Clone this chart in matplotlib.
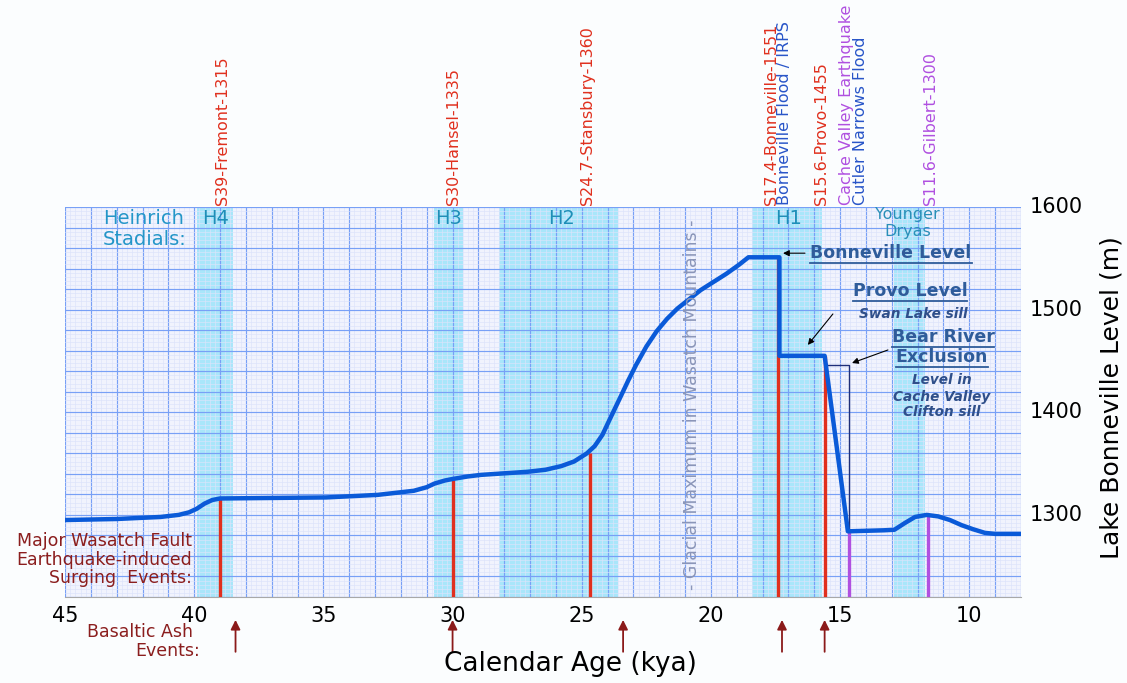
import matplotlib
matplotlib.use("Agg")
import matplotlib.pyplot as plt
from matplotlib.lines import Line2D
from matplotlib.transforms import IdentityTransform
from matplotlib.ticker import MultipleLocator

# Lake Bonneville level curve (age in kya, level in m)
age = [45.0, 43.0, 41.3, 40.6, 40.2, 39.9, 39.6, 39.3, 39.0, 37.0, 34.9, 32.9,
       31.5, 31.0, 30.7, 30.3, 30.0, 29.4, 28.9, 28.0, 27.1, 26.4, 25.8, 25.3,
       24.8, 24.5, 24.2, 24.05, 23.9, 23.5, 23.2, 22.9, 22.5, 22.1, 21.7, 21.3, 20.9,
       20.4, 19.9, 19.4, 18.9, 18.55, 17.35, 17.35, 15.6, 14.7, 13.3, 12.9,
       12.5, 12.1, 11.65, 11.2, 10.75, 10.3, 9.85, 9.4, 9.0, 8.0]
level = [1295, 1296, 1298, 1300, 1302.5, 1306, 1311, 1314.5, 1316, 1316.5, 1317, 1319.5,
         1323.5, 1327, 1330.5, 1333.5, 1335, 1337.5, 1339, 1340.5, 1342, 1344, 1347.5, 1352,
         1360, 1367, 1378, 1386, 1394, 1415, 1431, 1446, 1464, 1479, 1491, 1501, 1509,
         1519, 1527, 1535, 1544, 1551, 1551, 1455, 1455, 1284, 1285, 1285.5,
         1292, 1298, 1300, 1298.5, 1295, 1290, 1286, 1282.5, 1281.5, 1281.5]

# earthquake-induced surging events
quake_age = [39.0, 30.0, 24.7, 17.4, 15.6]
quake_level = [1316, 1334, 1360, 1551, 1455]
quake_label = ["S39-Fremont-1315", "S30-Hansel-1335", "S24.7-Stansbury-1360",
               "S17.4-Bonneville-1551", "S15.6-Provo-1455"]
quake_label_x = [38.92, 29.98, 24.76, 17.64, 15.74]

# purple events
purple_age = [14.65, 11.6]
purple_level = [1284, 1300]

# Heinrich stadials (start, end)
stadial_start = [39.9, 30.7, 28.2, 18.4, 12.9]
stadial_end = [38.5, 29.6, 23.6, 15.7, 11.7]
stadial_name = ["H4", "H3", "H2", "H1"]
stadial_name_x = [39.16, 30.14, 25.8, 16.98]

# basaltic ash events
ash_age = [38.4, 30.0, 23.4, 17.25, 15.6]

# Bear River exclusion outline
bear_age = [15.6, 14.65, 14.65]
bear_level = [1446, 1446, 1284]

xticks = [45, 40, 35, 30, 25, 20, 15, 10]
yticks = [1300, 1400, 1500, 1600]

RED = "#E0301E"
BLUE_TXT = "#2855C8"
PURPLE = "#B050E0"
DARKRED = "#8B1E1E"
CYAN_TXT = "#2496C8"
NOTE = "#2F5C9A"

fig = plt.figure(figsize=(11.27, 6.83), dpi=100)
fig.patch.set_facecolor("#FBFDFE")
ax = fig.add_axes([65 / 1127, 86 / 683, 956 / 1127, 390 / 683])
ax.set_facecolor("#F1F3FD")
ax.set_xlim(45, 8)
ax.set_ylim(1220, 1600)

# graph paper grid
ax.xaxis.set_major_locator(MultipleLocator(1))
ax.xaxis.set_minor_locator(MultipleLocator(0.2))
ax.yaxis.set_major_locator(MultipleLocator(20))
ax.yaxis.set_minor_locator(MultipleLocator(4))
ax.grid(which="major", color="#78A0F6", lw=0.85)
ax.grid(which="minor", color="#DCE3FA", lw=0.45)
ax.set_axisbelow(False)
ax.tick_params(which="both", length=0, labelbottom=False, labelleft=False)

for s, e in zip(stadial_start, stadial_end):
    ax.axvspan(s, e, color="#A9E6FA", lw=0, zorder=1)

ax.vlines(quake_age, 1220, quake_level, color=RED, lw=2.4, zorder=3)
ax.vlines(purple_age, 1220, purple_level, color=PURPLE, lw=2.4, zorder=3)
ax.plot(bear_age, bear_level, color="#1F2F7A", lw=1.0, zorder=3)
ax.plot(age, level, color="#0A5AD8", lw=3.2, zorder=4, solid_joinstyle="round")

for sp in ["left", "right", "top"]:
    ax.spines[sp].set_visible(False)
ax.spines["bottom"].set_color("#A8A8A8")

# tick labels
for t in xticks:
    ax.text(t, 1211, str(t), ha="center", va="top", fontsize=15, color="black",
            clip_on=False)
for t in yticks:
    ax.text(1.009, (t - 1220) / 380, str(t), transform=ax.transAxes, ha="left",
            va="center", fontsize=15, color="black")
fig.text(1112 / 1127, 1 - 398 / 683, "Lake Bonneville Level (m)", rotation=90,
         ha="center", va="center", fontsize=18)
fig.text(570 / 1127, 1 - 664 / 683, "Calendar Age (kya)", ha="center",
         va="center", fontsize=19)

# top rotated labels
top_y = 1602
for x, lab in zip(quake_label_x, quake_label):
    ax.text(x, top_y, lab, rotation=90, ha="center", va="bottom", color=RED,
            fontsize=11.5, clip_on=False)
ax.text(17.14, top_y, "Bonneville Flood / IRPS", rotation=90, ha="center",
        va="bottom", color=BLUE_TXT, fontsize=11.5, clip_on=False)
ax.text(14.74, top_y, "Cache Valley Earthquake", rotation=90, ha="center",
        va="bottom", color=PURPLE, fontsize=11.5, clip_on=False)
ax.text(14.2, top_y, "Cutler Narrows Flood", rotation=90, ha="center",
        va="bottom", color=BLUE_TXT, fontsize=11.5, clip_on=False)
ax.text(11.52, top_y, "S11.6-Gilbert-1300", rotation=90, ha="center",
        va="bottom", color=PURPLE, fontsize=11.5, clip_on=False)

# stadial labels
ax.text(43.52, 1589, "Heinrich", ha="left", va="center", color=CYAN_TXT, fontsize=14)
ax.text(43.52, 1568, "Stadials:", ha="left", va="center", color=CYAN_TXT, fontsize=14)
for x, lab in zip(stadial_name_x, stadial_name):
    ax.text(x, 1589, lab, ha="center", va="center", color="#1E8FB8", fontsize=14)
ax.text(12.38, 1593, "Younger", ha="center", va="center", color="#2A8FB8", fontsize=11.5)
ax.text(12.38, 1576, "Dryas", ha="center", va="center", color="#2A8FB8", fontsize=11.5)

ax.text(20.75, 1407, "- Glacial Maximum in Wasatch Mountains -", rotation=90,
        ha="center", va="center", color="#8A95B8", fontsize=12.5, zorder=5)

# level notes
notes = []
notes.append(ax.text(13.03, 1555, "Bonneville Level", ha="center", va="center",
                     color=NOTE, fontsize=12.5, fontweight="bold", zorder=6))
notes.append(ax.text(12.3, 1518, "Provo Level", ha="center", va="center",
                     color=NOTE, fontsize=12.5, fontweight="bold", zorder=6))
ax.text(12.18, 1496, "Swan Lake sill", ha="center", va="center", color="#2F4F8A",
        fontsize=9.8, fontweight="bold", style="italic", zorder=6)
notes.append(ax.text(11.02, 1473.4, "Bear River", ha="center", va="center",
                     color=NOTE, fontsize=12.5, fontweight="bold", zorder=6))
notes.append(ax.text(11.06, 1454, "Exclusion", ha="center", va="center",
                     color=NOTE, fontsize=12.5, fontweight="bold", zorder=6))
for y, lab in zip([1431.5, 1415, 1400.3], ["Level in", "Cache Valley", "Clifton sill"]):
    ax.text(11.06, y, lab, ha="center", va="center", color="#2F4F8A",
            fontsize=9.8, fontweight="bold", style="italic", zorder=6)

arrow = dict(arrowstyle="-|>", color="black", lw=0.8, mutation_scale=9, shrinkA=0, shrinkB=0)
ax.annotate("", xy=(17.21, 1555), xytext=(16.36, 1555), arrowprops=arrow, zorder=6)
ax.annotate("", xy=(16.25, 1465.6), xytext=(15.28, 1495.8), arrowprops=arrow, zorder=6)
ax.annotate("", xy=(14.54, 1448), xytext=(13.15, 1460.7), arrowprops=arrow, zorder=6)

# left annotations
for y, lab in zip([1274.7, 1256.2, 1238.6],
                  ["Major Wasatch Fault", "Earthquake-induced", "Surging  Events:"]):
    ax.text(40.1, y, lab, ha="right", va="center", color=DARKRED, fontsize=12.5, zorder=6)
ax.text(40.05, 1186, "Basaltic Ash", ha="right", va="center", color=DARKRED,
        fontsize=12.5, clip_on=False)
ax.text(39.78, 1167.5, "Events:", ha="right", va="center", color=DARKRED,
        fontsize=12.5, clip_on=False)

ash_arrow = dict(arrowstyle="-|>", color="#8B1A1A", lw=1.3, mutation_scale=14,
                 shrinkA=0, shrinkB=0)
for a in ash_age:
    ax.annotate("", xy=(a, 1197.7), xytext=(a, 1166.6), arrowprops=ash_arrow,
                annotation_clip=False)

# underline the level notes
fig.canvas.draw()
renderer = fig.canvas.get_renderer()
for t in notes:
    bb = t.get_window_extent(renderer)
    fig.add_artist(Line2D([bb.x0, bb.x1], [bb.y0 - 1, bb.y0 - 1], color=NOTE,
                          lw=1.3, transform=IdentityTransform()))

fig.savefig("out.png", dpi=100, facecolor=fig.get_facecolor())
